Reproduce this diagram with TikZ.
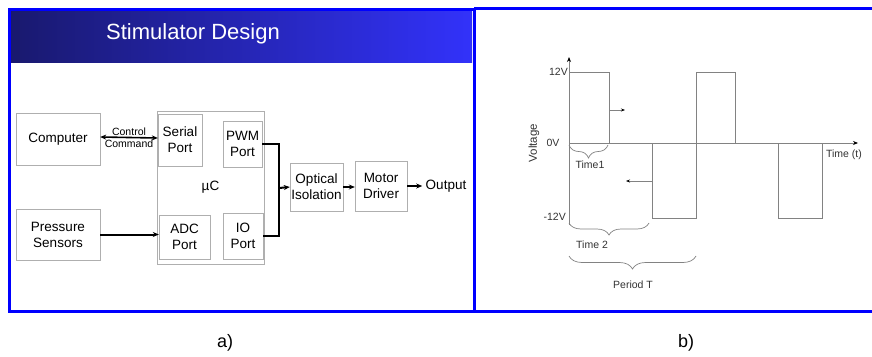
\documentclass[tikz,border=0pt]{standalone}
\usepackage{fontspec}
\setmainfont{Liberation Sans}
\usetikzlibrary{arrows.meta,decorations.pathreplacing}
\definecolor{hdrdark}{RGB}{25,25,110}
\definecolor{hdrlight}{RGB}{50,50,250}
\definecolor{boxgray}{RGB}{175,175,175}
\definecolor{wavegray}{RGB}{130,130,130}
\definecolor{txtgray}{RGB}{50,50,50}
\begin{document}
\begin{tikzpicture}[x=1pt,y=-1pt,
  block/.style={draw=boxgray, rectangle, align=center, inner sep=0pt, font=\fontsize{13.5}{16}\selectfont},
  link/.style={line width=2pt, -{Stealth[length=6pt,width=5pt]}},
  wave/.style={draw=wavegray, line width=0.8pt},
  brc/.style={draw=wavegray, line width=0.7pt, decorate, decoration={brace, mirror, amplitude=#1}},
  lbl/.style={text=txtgray, inner sep=0pt, font=\fontsize{10.5}{12}\selectfont}]
\useasboundingbox (0,0) rectangle (872,356);
% a) stimulator design
\shade[left color=hdrdark, right color=hdrlight] (10,10) rectangle (472,62);
\draw[blue, line width=3pt] (9,9) rectangle (474,311);
\node[text=white, font=\fontsize{22}{26}\selectfont] (title) at (193,34) {Stimulator Design};
\node[block, minimum width=84pt, minimum height=52pt] (comp) at (58,139) {Computer};
\node[block, minimum width=84pt, minimum height=51pt] (sens) at (58,234.5) {Pressure\\Sensors};
\node[block, minimum width=107pt, minimum height=153pt] (uc) at (210.5,187.5) {µC};
\node[block, minimum width=44pt, minimum height=52pt] (serial) at (180,140) {Serial\\Port};
\node[block, minimum width=39pt, minimum height=46pt] (pwm) at (242.5,144) {PWM\\Port};
\node[block, minimum width=51pt, minimum height=44pt] (adc) at (184.5,237) {ADC\\Port};
\node[block, minimum width=40pt, minimum height=46pt] (io) at (243,236) {IO\\Port};
\node[block, minimum width=53pt, minimum height=48pt] (opt) at (316.5,187) {Optical\\Isolation};
\node[block, minimum width=52pt, minimum height=50pt] (mot) at (381,186) {Motor\\Driver};
\node[font=\fontsize{13.5}{16}\selectfont] (out) at (446,186) {Output};
\coordinate (join) at (279,188);
\draw[line width=1.6pt, {Stealth[length=6pt,width=5pt]}-{Stealth[length=6pt,width=5pt]}] ([yshift=2pt]comp.east) -- node[lbl, text=black, above=1pt] (ctl) {Control} node[lbl, text=black, below=2pt] (cmd) {Command} ([yshift=2pt]serial.west);
\draw[link] (sens.east) -- (sens.east -| adc.west);
\draw[line width=2.2pt] (pwm.east) -| (join) |- (io.east);
\draw[link] (join) -- (opt.west);
\draw[link] (opt.east) -- (opt.east -| mot.west);
\draw[link] (mot.east) -- (out.west);
% b) output waveform
\draw[blue, line width=3pt] (474,8.5) -- (872,8.5) (474,311) -- (872,311);
\draw[wave, -{Stealth[color=black, length=5pt, width=4pt]}] (569,225) -- (569,57);
\draw[wave, -{Stealth[color=black, length=5pt, width=4pt]}] (569,143) -- (858,143);
\draw[wave] (569,143) |- (609,72) -- (609,143);
\draw[wave] (652,143) |- (696,218) |- (735,72) -- (735,143);
\draw[wave] (778,143) |- (822,218) -- (822,143);
\draw[wave, -{Stealth[color=black, length=4pt, width=3pt]}] (609,110) -- (625,110);
\draw[wave, -{Stealth[color=black, length=4pt, width=3pt]}] (652,181) -- (626,181);
\draw[brc=13pt] (569,145) -- (608,145);
\draw[brc=12pt] (569,223) -- (649,223);
\draw[brc=13pt] (569,256) -- (696,256);
\node[lbl, anchor=east] (v12) at (568,72) {12V};
\node[lbl] (v0) at (553,143) {0V};
\node[lbl, anchor=east] (vm12) at (566,217) {-12V};
\node[lbl, rotate=90, font=\fontsize{11.5}{13}\selectfont] (vlab) at (534,143) {Voltage};
\node[lbl] (tlab) at (844,155) {Time (t)};
\node[lbl] (t1) at (590,165) {Time1};
\node[lbl] (t2) at (592,245) {Time 2};
\node[lbl] (per) at (633,285) {Period T};
\node[font=\fontsize{18}{22}\selectfont] (capa) at (225,343) {a)};
\node[font=\fontsize{18}{22}\selectfont] (capb) at (686,343) {b)};
\end{tikzpicture}
\end{document}
